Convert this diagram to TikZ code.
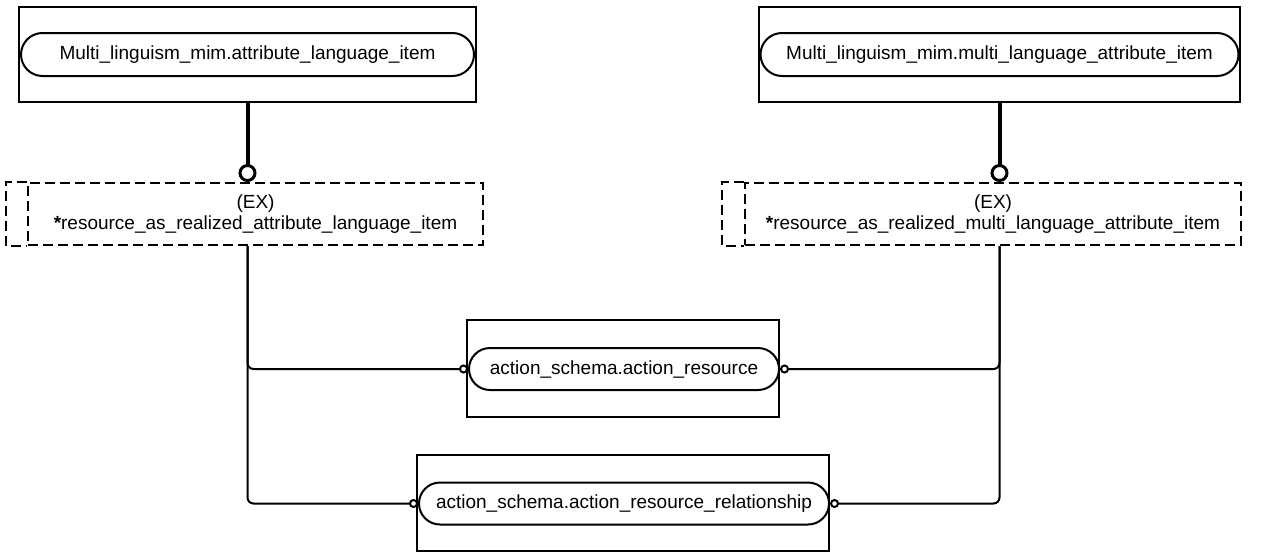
\documentclass[tikz,border=0pt]{standalone}
\usepackage{fontspec}
\setmainfont{Liberation Sans}
\usetikzlibrary{positioning}
\usetikzlibrary{arrows.meta}
\usetikzlibrary{shapes.misc}

\begin{document}
\begin{tikzpicture}[ x = 0.5pt
                   , y = -0.5pt
                   , font = \fontsize{9.5}{10.5}\selectfont
                   , every node/.style = { align = center
                                         , inner sep = 0pt }
                   ]
  \useasboundingbox (0,0) rectangle (1268,552);

  %%
  %% Nodes
  %%
  \tikzset{ ent/.style={draw, line width=1pt}
          , pill/.style={rounded rectangle, draw, line width=1pt}
          , exbox/.style={draw, dash pattern=on 5pt off 2.5pt, line width=1pt, minimum height=31pt}
          }

  \node (ali) [ent, minimum width=228.5pt, minimum height=47.5pt] at (247.5,54.5) {};
  \node (alip) [pill, minimum width=226.5pt, minimum height=21.5pt] at (247.5,54.5)
        {Multi\_linguism\_mim.attribute\_language\_item};
  \node (mlai) [ent, minimum width=240.5pt, minimum height=47.5pt] at (999.5,54.5) {};
  \node (mlaip) [pill, minimum width=239pt, minimum height=21.5pt] at (999.5,54.5)
        {Multi\_linguism\_mim.multi\_language\_attribute\_item};
  \node (rali) [exbox, minimum width=227.5pt] at (255.5,214)
        {(EX)\\\textbf{*}resource\_as\_realized\_attribute\_language\_item};
  \node (rmlai) [exbox, minimum width=248pt] at (993,214)
        {(EX)\\\textbf{*}resource\_as\_realized\_multi\_language\_attribute\_item};
  \node (ar) [ent, minimum width=156pt, minimum height=48.5pt] at (623,368.5) {};
  \node (arp) [pill, minimum width=155pt, minimum height=21pt] at (624,369)
        {action\_schema.action\_resource};
  \node (arr) [ent, minimum width=206pt, minimum height=48pt] at (623,503) {};
  \node (arrp) [pill, minimum width=205pt, minimum height=21pt] at (624,503.5)
        {action\_schema.action\_resource\_relationship};

  % Outer edge of the dashed boxes.
  \draw[exbox] (rali.north west) -- ++(-21,0) |- (rali.south west);
  \draw[exbox] (rmlai.north west) -- ++(-22,0) |- (rmlai.south west);

  %%
  %% Connectors
  %%
  \tikzset{ sub/.style={line width=2pt, -{Circle[open, length=9pt, line width=1.5pt]}}
          , link/.style={line width=1pt, rounded corners=3pt, -{Circle[open, length=4.5pt]}}
          }
  % Supertype lines.
  \draw[sub] (ali.south) -- (ali.south |- rali.north);
  \draw[sub] (mlai.south) -- (mlai.south |- rmlai.north);
  % Reference lines.
  \draw[link] (ali.south |- rali.south) |- (arp.west);
  \draw[link] (ali.south |- rali.south) |- (arrp.west);
  \draw[link] (mlai.south |- rmlai.south) |- (arp.east);
  \draw[link] (mlai.south |- rmlai.south) |- (arrp.east);
\end{tikzpicture}
\end{document}
